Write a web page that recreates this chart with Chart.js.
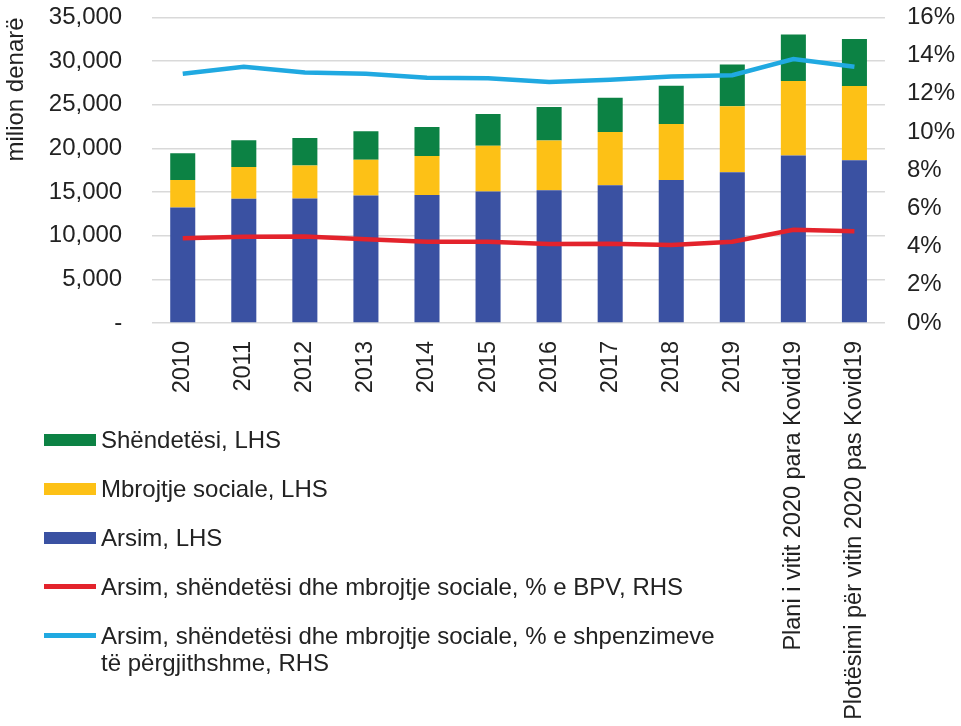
<!DOCTYPE html>
<html lang="sq">
<head>
  <meta charset="UTF-8">
  <title>Arsim, shëndetësi dhe mbrojtje sociale</title>
  <script src="https://cdn.jsdelivr.net/npm/chart.js"></script>
  <style>
    html, body {
      margin: 0;
      padding: 0;
      background: #ffffff;
    }
    body {
      width: 961px;
      height: 726px;
      position: relative;
      overflow: hidden;
      font-family: 'Liberation Sans', Arial, sans-serif;
      color: #222;
    }
    #wrap {
      position: absolute;
      left: 0;
      top: 0;
      width: 961px;
      height: 726px;
    }
    #legend {
      position: absolute;
      left: 44px;
      top: 426px;
      margin: 0;
      padding: 0;
      list-style: none;
      font-size: 24px;
      line-height: 27px;
    }
    #legend li {
      position: relative;
      padding-left: 57px;
      height: 49px;
      white-space: nowrap;
    }
    #legend .sw {
      position: absolute;
      left: 0;
      width: 52px;
    }
  </style>
</head>
<body>
  <div id="wrap"><canvas id="chart" width="961" height="726"></canvas></div>
  <ul id="legend"></ul>

  <script>
    const categories = ['2010', '2011', '2012', '2013', '2014', '2015', '2016', '2017', '2018', '2019',
      'Plani i vitit 2020 para Kovid19', 'Plotësimi për vitin 2020 pas Kovid19'];

    // milion denarë (LHS)
    const arsim = [13220, 14220, 14250, 14600, 14670, 15050, 15210, 15780, 16390, 17270, 19170, 18640];
    const mbrojtje = [3170, 3660, 3780, 4110, 4470, 5260, 5680, 6100, 6410, 7550, 8540, 8500];
    const shendetesi = [3060, 3050, 3160, 3250, 3310, 3630, 3850, 3920, 4380, 4800, 5340, 5380];

    // % (RHS)
    const pctBPV = [4.44, 4.51, 4.53, 4.39, 4.25, 4.25, 4.13, 4.15, 4.09, 4.25, 4.88, 4.81];
    const pctShpenzime = [13.05, 13.42, 13.12, 13.05, 12.84, 12.81, 12.62, 12.74, 12.91, 12.97, 13.82, 13.42];

    const leftTicks = [0, 5000, 10000, 15000, 20000, 25000, 30000, 35000];
    const rightTicks = [0, 2, 4, 6, 8, 10, 12, 14, 16];

    const fontFamily = "'Liberation Sans', Arial, sans-serif";
    const font = { family: fontFamily, size: 24 };
    const xFontSize = 23.5;
    const textColor = '#222';

    // x labels are drawn rotated under the axis (Chart.js caps the axis height at half the canvas)
    const xLabelsPlugin = {
      id: 'xLabels',
      afterDraw(chart) {
        const ctx = chart.ctx;
        const xs = chart.scales.x;
        const top = chart.chartArea.bottom + 18;
        ctx.save();
        ctx.font = xFontSize + 'px ' + fontFamily;
        ctx.fillStyle = textColor;
        ctx.textAlign = 'right';
        ctx.textBaseline = 'middle';
        categories.forEach((c, i) => {
          ctx.save();
          ctx.translate(xs.getPixelForValue(i), top);
          ctx.rotate(-Math.PI / 2);
          ctx.fillText(c, 0, 0);
          ctx.restore();
        });
        ctx.restore();
      }
    };

    const chart = new Chart(document.getElementById('chart'), {
      type: 'bar',
      data: {
        labels: categories,
        datasets: [
          {
            label: 'Arsim, shëndetësi dhe mbrojtje sociale, % e BPV, RHS',
            type: 'line',
            data: pctBPV,
            yAxisID: 'y1',
            borderColor: '#e3232c',
            backgroundColor: '#e3232c',
            borderWidth: 4.5,
            pointRadius: 0,
            tension: 0,
            order: 0
          },
          {
            label: 'Arsim, shëndetësi dhe mbrojtje sociale, % e shpenzimeve të përgjithshme, RHS',
            type: 'line',
            data: pctShpenzime,
            yAxisID: 'y1',
            borderColor: '#20a9e1',
            backgroundColor: '#20a9e1',
            borderWidth: 4.5,
            pointRadius: 0,
            tension: 0,
            order: 0
          },
          {
            label: 'Arsim, LHS',
            data: arsim,
            backgroundColor: '#3a51a2',
            stack: 's',
            order: 1
          },
          {
            label: 'Mbrojtje sociale, LHS',
            data: mbrojtje,
            backgroundColor: '#fdc116',
            stack: 's',
            order: 1
          },
          {
            label: 'Shëndetësi, LHS',
            data: shendetesi,
            backgroundColor: '#0c8244',
            stack: 's',
            order: 1
          }
        ]
      },
      options: {
        responsive: false,
        animation: false,
        barPercentage: 0.41,
        categoryPercentage: 1,
        layout: { padding: { top: 17, right: 3, bottom: 403, left: 0 } },
        plugins: {
          legend: { display: false },
          tooltip: { enabled: false }
        },
        scales: {
          x: {
            stacked: true,
            grid: { display: false, drawTicks: false },
            border: { display: false },
            ticks: { display: false }
          },
          y: {
            stacked: true,
            position: 'left',
            min: 0,
            max: 35000,
            afterBuildTicks: (axis) => { axis.ticks = leftTicks.map(v => ({ value: v })); },
            grid: { color: '#d9d9d9', lineWidth: 1.6, drawTicks: true, tickLength: 27, tickColor: 'transparent' },
            border: { display: false },
            ticks: {
              font: font,
              color: textColor,
              padding: 3,
              callback: (v) => v === 0 ? '-' : v.toLocaleString('en-US')
            },
            title: {
              display: true,
              text: 'milion denarë',
              align: 'end',
              font: font,
              color: textColor,
              padding: { top: 2, bottom: 15 }
            }
          },
          y1: {
            position: 'right',
            min: 0,
            max: 16,
            afterBuildTicks: (axis) => { axis.ticks = rightTicks.map(v => ({ value: v })); },
            grid: { display: true, drawOnChartArea: false, color: 'transparent', drawTicks: true, tickLength: 19, tickColor: 'transparent' },
            border: { display: false },
            ticks: {
              font: font,
              color: textColor,
              padding: 3,
              callback: (v) => v + '%'
            }
          }
        }
      },
      plugins: [xLabelsPlugin]
    });

    // legend in the reference order
    const legendOrder = [
      { label: ['Shëndetësi, LHS'], color: '#0c8244', kind: 'bar' },
      { label: ['Mbrojtje sociale, LHS'], color: '#fdc116', kind: 'bar' },
      { label: ['Arsim, LHS'], color: '#3a51a2', kind: 'bar' },
      { label: ['Arsim, shëndetësi dhe mbrojtje sociale, % e BPV, RHS'], color: '#e3232c', kind: 'line' },
      { label: ['Arsim, shëndetësi dhe mbrojtje sociale, % e shpenzimeve', 'të përgjithshme, RHS'], color: '#20a9e1', kind: 'line' }
    ];
    const ul = document.getElementById('legend');
    legendOrder.forEach((item) => {
      const li = document.createElement('li');
      const sw = document.createElement('span');
      sw.className = 'sw';
      sw.style.background = item.color;
      if (item.kind === 'bar') {
        sw.style.top = '8px';
        sw.style.height = '12px';
      } else {
        sw.style.top = '11px';
        sw.style.height = '5px';
      }
      li.appendChild(sw);
      item.label.forEach((t, j) => {
        if (j > 0) li.appendChild(document.createElement('br'));
        li.appendChild(document.createTextNode(t));
      });
      ul.appendChild(li);
    });
  </script>
</body>
</html>
